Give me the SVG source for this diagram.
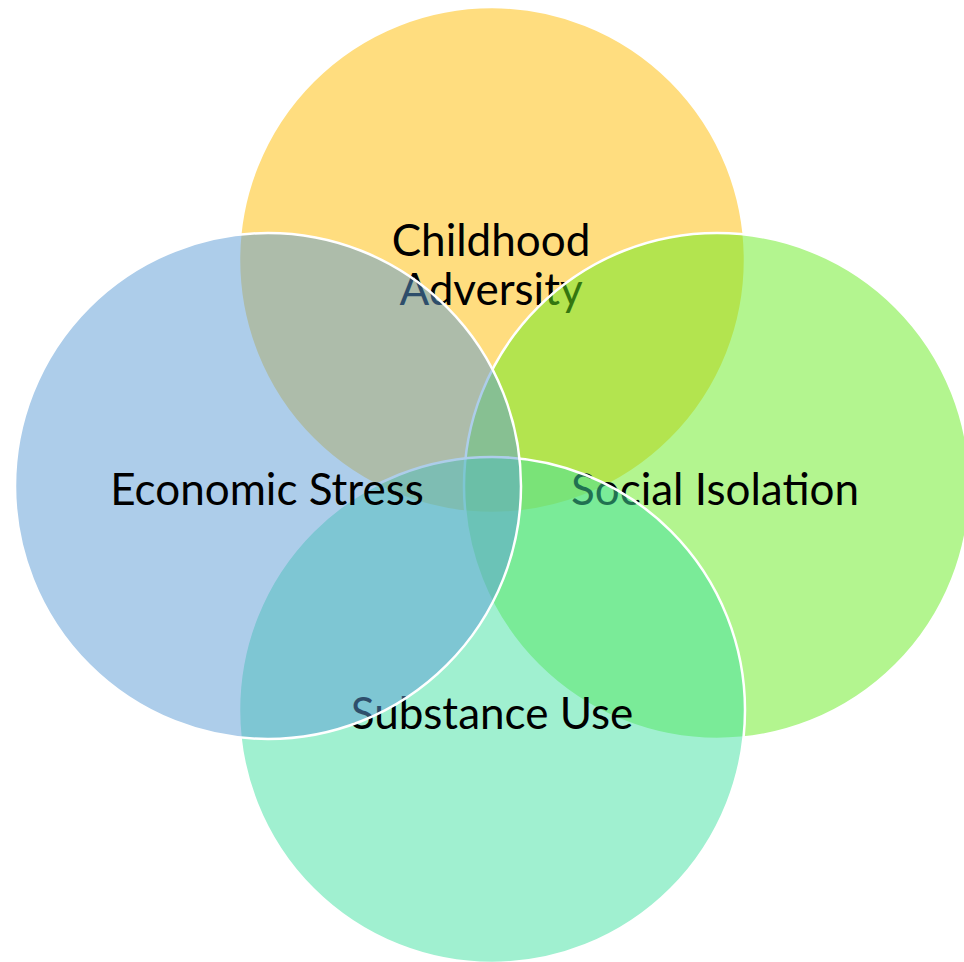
<svg xmlns="http://www.w3.org/2000/svg" width="964" height="962" viewBox="0 0 964 962">
  <style>
    .ring { fill-opacity: 0.5; stroke: #FFFFFF; stroke-width: 2.5; }
    .label { font-family: Lato, "Open Sans", "Liberation Sans", sans-serif; font-size: 44px; fill: #000000; text-anchor: middle; }
  </style>
  <rect width="964" height="962" fill="#FFFFFF"/>
  <!-- Four overlapping translucent circles; each label is drawn with its circle -->
  <g id="childhood-adversity">
    <circle class="ring" cx="492" cy="260" r="253" fill="#FFBC00"/>
    <text class="label" x="491" y="256">Childhood</text>
    <text class="label" x="491" y="305">Adversity</text>
  </g>
  <g id="social-isolation">
    <circle class="ring" cx="717" cy="486" r="253" fill="#67EB1F"/>
    <text class="label" x="715" y="505">Social Isolation</text>
  </g>
  <g id="substance-use">
    <circle class="ring" cx="492" cy="710" r="253" fill="#41E1A1"/>
    <text class="label" x="492" y="729">Substance Use</text>
  </g>
  <g id="economic-stress">
    <circle class="ring" cx="268" cy="486" r="253" fill="#5B9BD5"/>
    <text class="label" x="267" y="505">Economic Stress</text>
  </g>
  <g id="connectors"></g>
</svg>
